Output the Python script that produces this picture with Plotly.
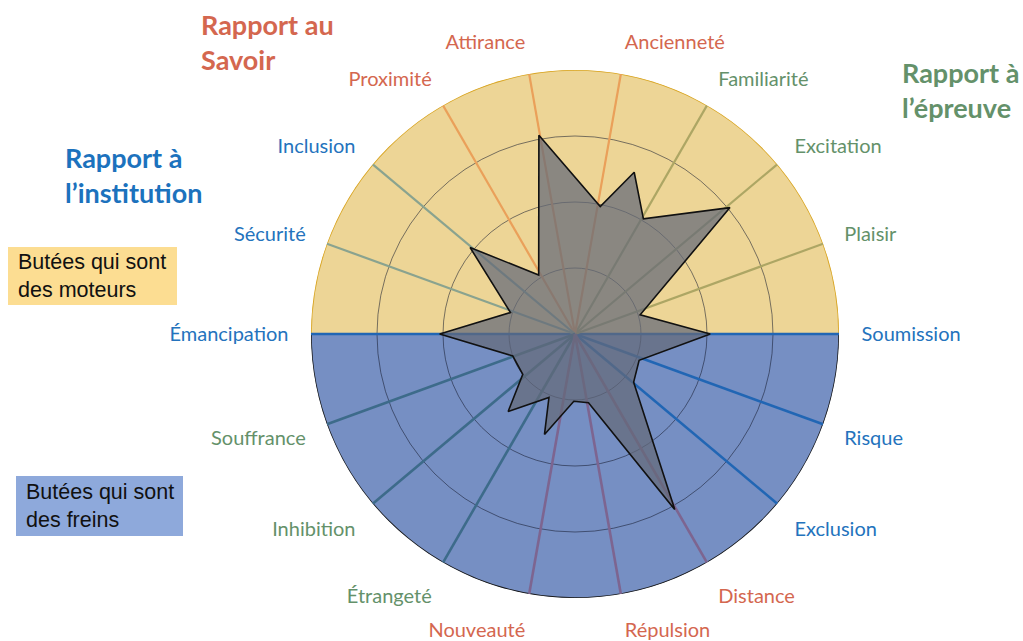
import plotly.graph_objects as go

categories = ["Soumission", "Plaisir", "Excitation", "Familiarité", "Ancienneté", "Attirance",
              "Proximité", "Inclusion", "Sécurité", "Émancipation", "Souffrance", "Inhibition",
              "Étrangeté", "Nouveauté", "Répulsion", "Distance", "Exclusion", "Risque"]
rapport = ["institution", "epreuve", "epreuve", "epreuve", "savoir", "savoir",
           "savoir", "institution", "institution", "institution", "epreuve", "epreuve",
           "epreuve", "savoir", "savoir", "savoir", "institution", "institution"]

# contour gris : angle (degrés) et niveau (0-4) de chaque sommet
profil_theta = [0, 16.5, 39.2, 59.3, 69.9, 78.8, 100.3, 121.6, 140.5, 161.6, 180,
                199.4, 217.7, 229.2, 247.7, 253.1, 269, 281.1, 299.6, 320.6, 337.7]
profil_r = [2.05, 1.03, 3.03, 2.03, 2.61, 1.97, 3.06, 1.05, 2.06, 1.03, 2.05,
            1.0, 1.0, 1.55, 1.04, 1.59, 1.02, 1.06, 3.06, 1.15, 1.05]

niveaux = [1, 2, 3, 4]
moities = ["moteurs", "freins"]
moities_centre = [90, 270]

couleur_texte = {"institution": "#2473BD", "epreuve": "#64916A", "savoir": "#D4674F"}
couleur_rayon = {
    ("epreuve", "haut"): "#ADA664", ("savoir", "haut"): "#EAA05A", ("institution", "haut"): "#8AA38F",
    ("epreuve", "bas"): "#3D6B8A", ("savoir", "bas"): "#7D6590", ("institution", "bas"): "#2166B4",
}
couleur_moitie = {"moteurs": "#EDD596", "freins": "#768FC3"}
bord_moitie = {"moteurs": "#D9A625", "freins": "#1A1A1A"}

n = len(categories)
angles = [i * 360 / n for i in range(n)]
rmax = niveaux[-1]

fig = go.Figure()

# fond : deux demi-disques
for nom, centre in zip(moities, moities_centre):
    fig.add_trace(go.Barpolar(
        theta=[centre], r=[rmax], width=[180], subplot="polar",
        marker=dict(color=couleur_moitie[nom], line=dict(color=bord_moitie[nom], width=1.6)),
        showlegend=False, hoverinfo="skip"))

# rayons colorés
rayons = {}
for a, grp in zip(angles, rapport):
    moitie = "haut" if 0 < a < 180 else "bas"
    t, r = rayons.setdefault((grp, moitie), ([], []))
    t += [a, a, None]
    r += [0, rmax, None]
for cle, (t, r) in rayons.items():
    fig.add_trace(go.Scatterpolar(
        theta=t, r=r, mode="lines", subplot="polar2",
        line=dict(color=couleur_rayon[cle], width=2.6 if cle[1] == "bas" else 2.2),
        showlegend=False, hoverinfo="skip"))

# profil
fig.add_trace(go.Scatterpolar(
    theta=profil_theta + profil_theta[:1], r=profil_r + profil_r[:1],
    mode="lines", fill="toself", subplot="polar2",
    fillcolor="rgba(100,105,120,0.72)", line=dict(color="#111111", width=1.6),
    showlegend=False))

ticktext = ["<span style='color:%s'>%s</span>" % (couleur_texte[g], c)
            for c, g in zip(categories, rapport)]

domaine = dict(x=[(575 - 264) / 1023, (575 + 264) / 1023],
               y=[(307 - 264) / 641, (307 + 264) / 641])

fig.update_layout(
    width=1023, height=641,
    margin=dict(l=0, r=0, t=0, b=0),
    paper_bgcolor="white", plot_bgcolor="white",
    polar=dict(
        domain=domaine, bgcolor="white",
        radialaxis=dict(range=[0, rmax], visible=False),
        angularaxis=dict(type="linear", thetaunit="degrees", rotation=0,
                         direction="counterclockwise", visible=False),
    ),
    polar2=dict(
        domain=domaine, bgcolor="rgba(0,0,0,0)",
        radialaxis=dict(range=[0, rmax], tickvals=niveaux[:-1], showticklabels=False,
                        ticks="", showline=False, gridcolor="rgba(20,25,45,0.55)", gridwidth=1),
        angularaxis=dict(type="linear", thetaunit="degrees", rotation=0,
                         direction="counterclockwise", tickmode="array",
                         tickvals=angles, ticktext=ticktext, showgrid=False, showline=False,
                         ticks="outside", ticklen=18, tickcolor="rgba(0,0,0,0)",
                         tickfont=dict(family="Lato", size=20)),
    ),
)

# titres des rapports
titres = [("Rapport au<br>Savoir", couleur_texte["savoir"], 199, 6, "left"),
          ("Rapport à<br>l’épreuve", couleur_texte["epreuve"], 1021, 54, "right"),
          ("Rapport à<br>l’institution", "#1C72BD", 63, 139, "left")]
for txt, col, x, y, anc in titres:
    fig.add_annotation(text="<b>%s</b>" % txt, xref="paper", yref="paper",
                       x=x / 1023, y=1 - y / 641, xanchor=anc, yanchor="top",
                       align="left", showarrow=False,
                       font=dict(family="Lato", size=27, color=col))

# encadrés
encadres = [("Butées qui sont<br>des moteurs", "#FCDD92", 8, 247, 177, 305),
            ("Butées qui sont<br>des freins", "#8EA9DB", 16, 476, 183, 536)]
for txt, col, x0, y0, x1, y1 in encadres:
    fig.add_shape(type="rect", xref="paper", yref="paper",
                  x0=x0 / 1023, x1=x1 / 1023, y0=1 - y0 / 641, y1=1 - y1 / 641,
                  fillcolor=col, line=dict(width=0), layer="below")
    fig.add_annotation(text=txt, xref="paper", yref="paper",
                       x=(x0 + 8) / 1023, y=1 - (y0 + y1) / 2 / 641,
                       xanchor="left", yanchor="middle", align="left", showarrow=False,
                       font=dict(family="Liberation Sans", size=21.5, color="#111111"))

fig.write_html("out.html", config={"displayModeBar": False},
               post_script="document.body.style.margin='0';")
